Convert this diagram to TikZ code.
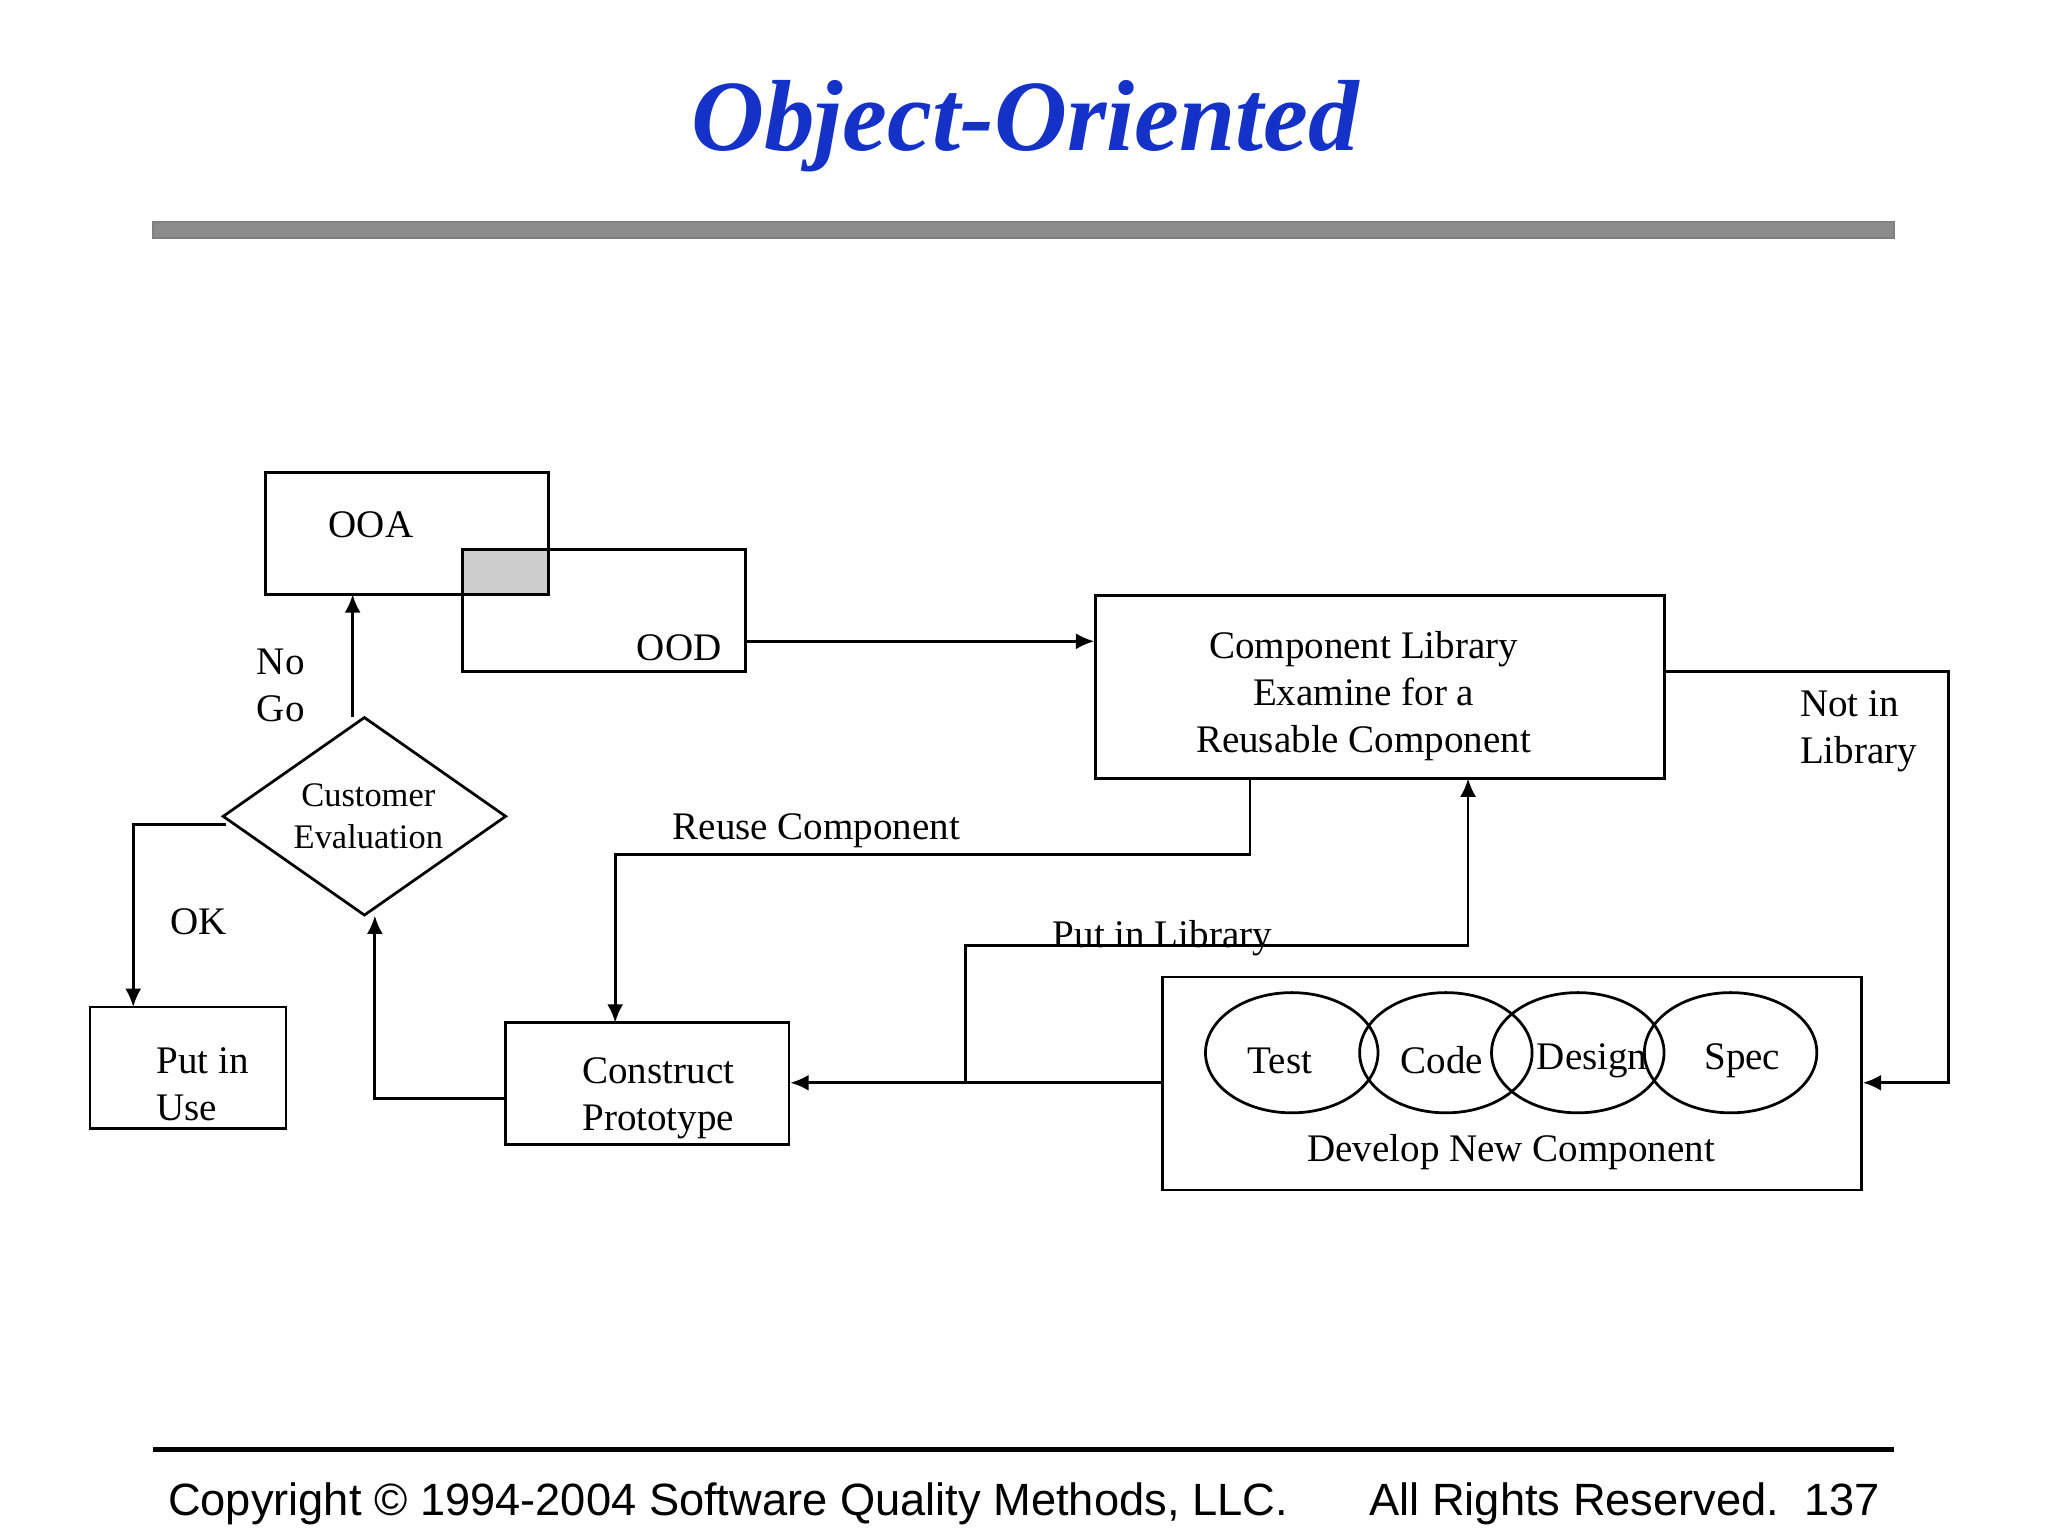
\documentclass[tikz,border=0pt]{standalone}
\usepackage{fontspec}
\setmainfont{Liberation Serif}
\newfontfamily\footfont{Liberation Sans}
\usetikzlibrary{shapes.geometric,arrows.meta}
\definecolor{titleblue}{RGB}{20,50,200}
\begin{document}
\begin{tikzpicture}[x=0.01cm,y=-0.01cm,
  box/.style={draw,line width=0.6pt,inner sep=0pt},
  lbl/.style={font=\fontsize{8.5}{10.3}\selectfont,align=center,inner sep=0pt},
  arr/.style={line width=0.6pt,-{Latex[length=4pt,width=3.5pt]}},
  ln/.style={line width=0.6pt},
  ell/.style={draw,ellipse,line width=0.6pt,minimum width=1.32cm,minimum height=0.92cm,inner sep=0pt}]
\useasboundingbox (0,0) rectangle (1568,1176);
\node[font=\fontsize{22}{26}\selectfont\bfseries\itshape,text=titleblue] (title) at (785,97) {Object-Oriented};
\draw[fill=gray!90,draw=gray] (117,170) rectangle (1450,182);
% OOA / OOD
\draw[ln] (203,362) rectangle (420,455);
\draw[ln] (354,421) rectangle (571,514);
\draw[ln,fill=gray!40] (354,421) rectangle (420,455);
\coordinate (ooaS) at (270,455);
\coordinate (oodE) at (571,491);
\node[lbl] (ooa) at (284,402) {OOA};
\node[lbl] (ood) at (520,496) {OOD};
% component library
\node[box,minimum width=4.35cm,minimum height=1.40cm] (lib) at (1056.5,526) {};
\node[lbl] (libt) at (1044,533) {Component Library\\Examine for a\\Reusable Component};
\draw[arr] (oodE) -- (lib.west|-oodE);
% diamond
\node[draw,diamond,line width=0.6pt,minimum width=2.17cm,minimum height=1.52cm,inner sep=0pt,aspect=1.43] (cust) at (279,625) {};
\node[font=\fontsize{7.5}{9.2}\selectfont,align=center] (custt) at (282,625) {Customer\\Evaluation};
\node[lbl,align=left] (nogo) at (215,525) {No\\Go};
\draw[arr] (270,549) -- (ooaS);
% put in use
\node[box,minimum width=1.50cm,minimum height=0.93cm] (use) at (144,817.5) {};
\node[lbl,align=left] (uset) at (155,830) {Put in\\Use};
\draw[arr] (173,631) -- (102,631) -- (102,771);
\node[lbl] (ok) at (152,706) {OK};
% construct
\node[box,minimum width=2.17cm,minimum height=0.93cm] (cons) at (495.5,829.5) {};
\node[lbl] (const) at (504,841) {Construct\\Prototype};
\draw[arr] (cons.west|-0,841) -- (287,841) -- (287,701);
% reuse
\draw[arr] (957,596) -- (957,654) -- (471,654) -- (471,783);
\node[lbl] (reuse) at (625,636) {Reuse Component};
% develop
\node[box,minimum width=5.35cm,minimum height=1.63cm] (dev) at (1157.5,829.5) {};
\node[ell] (test) at (989,806) {};
\node[ell] (code) at (1107,806) {};
\node[ell] (des) at (1208,806) {};
\node[ell] (spec) at (1325,806) {};
\node[lbl] at (980,812) {Test};
\node[lbl] at (1104,812) {Code};
\node[lbl] at (1219,812) {Design};
\node[lbl] at (1334,812) {Spec};
\node[lbl] (devt) at (1157,882) {Develop New Component};
\draw[arr] (dev.west|-0,829) -- (cons.east|-0,829);
\draw[arr] (739,829) -- (739,724) -- (1124,724) -- (1124,596);
\node[lbl] (pil) at (890,718) {Put in Library};
\draw[arr] (1274,514) -- (1492,514) -- (1492,829) -- (dev.east|-0,829);
\node[lbl,align=left] (nil) at (1423,560) {Not in\\Library};
% footer
\draw[line width=1pt] (117,1110) -- (1450,1110);
\node[font=\footfont\fontsize{9.85}{11}\selectfont,anchor=base west,inner sep=0pt] (copy) at (128,1160) {Copyright © 1994-2004 Software Quality Methods, LLC.};
\node[font=\footfont\fontsize{9.85}{11}\selectfont,anchor=base east,inner sep=0pt] (rights) at (1440,1160) {All Rights Reserved.\ \ 137};
\end{tikzpicture}
\end{document}
